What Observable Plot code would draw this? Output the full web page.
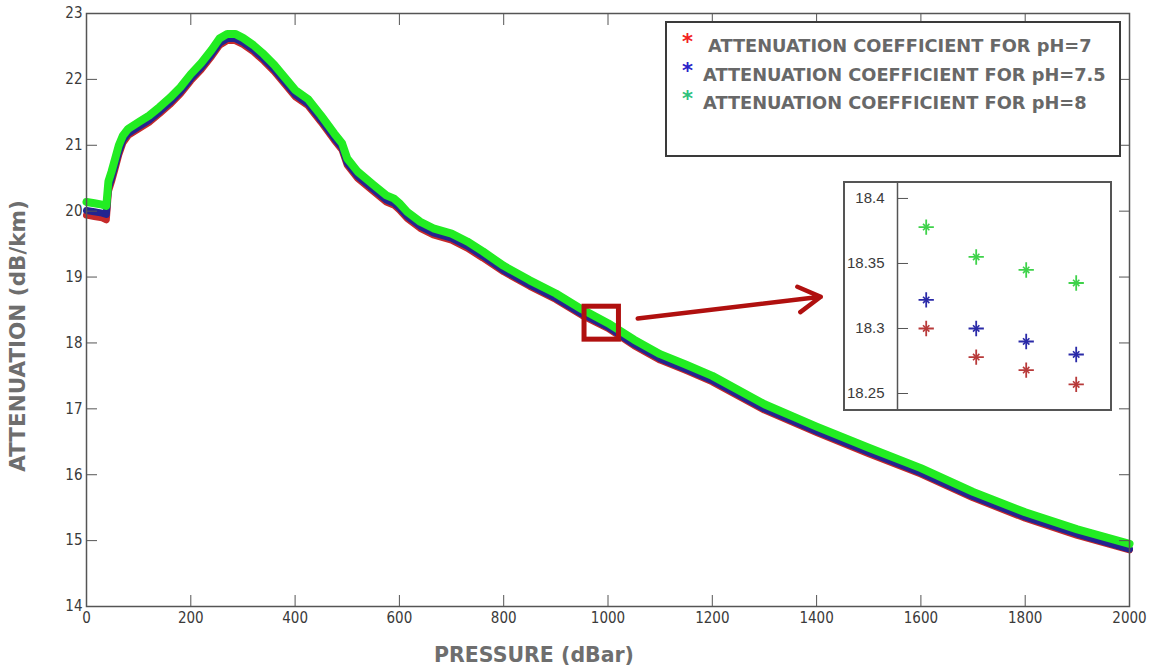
<!DOCTYPE html>
<html>
<head>
<meta charset="utf-8">
<script src="https://cdn.jsdelivr.net/npm/d3@7"></script>
<script src="https://cdn.jsdelivr.net/npm/@observablehq/plot@0.6"></script>
<style>
  body { margin: 0; background: #fff; }
  #wrap { position: relative; width: 1153px; height: 672px; background: #fff; }
  #wrap > svg { position: absolute; left: 0; top: 0; }
  #legend {
    position: absolute; left: 665px; top: 21px; width: 456px; height: 136px;
    border: 2px solid #3a3a3a; box-sizing: border-box; background: #fff;
    font-family: "DejaVu Sans", Verdana, sans-serif; font-weight: bold; font-size: 17.8px; color: #686868;
  }
  #legend .row { position: absolute; white-space: nowrap; line-height: 1; }
  #legend .star { position: absolute; font-size: 21px; line-height: 1; font-weight: bold; }
  #inset {
    position: absolute; left: 843px; top: 181px; width: 269px; height: 230px;
    border: 2px solid #555; box-sizing: border-box; background: #fff;
  }
  #inset svg { display: block; }
</style>
</head>
<body>
<div id="wrap"></div>
<script>
// Pressure grid (dBar) on which the attenuation profiles are sampled
const pressure = [0, 15, 30, 38, 42, 48, 55, 62, 70, 80, 100, 120, 140, 160, 180, 200,
  220, 240, 255, 270, 285, 300, 320, 340, 360, 380, 400, 425, 450, 475, 490, 500,
  520, 550, 575, 590, 600, 615, 640, 665, 700, 730, 760, 800, 850, 900, 950, 1000,
  1050, 1100, 1150, 1200, 1300, 1400, 1500, 1600, 1700, 1800, 1900, 2000];

// Attenuation (dB/km) for each pH
const attenPH7 = [19.94, 19.92, 19.90, 19.87, 20.30, 20.45, 20.65, 20.86, 21.04, 21.15, 21.25, 21.35, 21.48, 21.62, 21.78, 21.98,
  22.15, 22.35, 22.52, 22.59, 22.59, 22.53, 22.42, 22.28, 22.12, 21.93, 21.74, 21.60, 21.35, 21.08, 20.93, 20.70,
  20.50, 20.30, 20.14, 20.09, 20.02, 19.89, 19.74, 19.64, 19.56, 19.44, 19.29, 19.08, 18.86, 18.66, 18.42, 18.22,
  17.96, 17.74, 17.58, 17.41, 16.98, 16.64, 16.32, 16.01, 15.65, 15.34, 15.08, 14.86];
const attenPH75 = [20.01, 19.99, 19.97, 19.95, 20.35, 20.50, 20.70, 20.90, 21.08, 21.18, 21.28, 21.38, 21.51, 21.65, 21.81, 22.01,
  22.18, 22.38, 22.55, 22.62, 22.62, 22.56, 22.45, 22.31, 22.15, 21.96, 21.77, 21.63, 21.38, 21.11, 20.96, 20.73,
  20.53, 20.33, 20.17, 20.12, 20.05, 19.92, 19.77, 19.67, 19.59, 19.47, 19.32, 19.10, 18.88, 18.68, 18.44, 18.24,
  17.98, 17.76, 17.60, 17.43, 17.00, 16.66, 16.34, 16.03, 15.67, 15.36, 15.10, 14.87];
const attenPH8 = [20.14, 20.12, 20.10, 20.08, 20.45, 20.60, 20.80, 21.00, 21.15, 21.25, 21.35, 21.45, 21.58, 21.72, 21.88, 22.08,
  22.25, 22.45, 22.62, 22.69, 22.69, 22.63, 22.52, 22.38, 22.22, 22.03, 21.84, 21.70, 21.45, 21.18, 21.03, 20.80,
  20.60, 20.40, 20.24, 20.19, 20.12, 19.99, 19.84, 19.74, 19.66, 19.54, 19.39, 19.17, 18.95, 18.75, 18.51, 18.30,
  18.05, 17.83, 17.67, 17.50, 17.07, 16.73, 16.41, 16.10, 15.74, 15.43, 15.17, 14.95];

// Magnified samples near 1000 dBar (inset)
const insetSample = [1, 2, 3, 4];
const insetPH7 = [18.300, 18.278, 18.268, 18.257];
const insetPH75 = [18.322, 18.300, 18.290, 18.280];
const insetPH8 = [18.378, 18.355, 18.345, 18.335];

// Axis ticks
const xTicks = [0, 200, 400, 600, 800, 1000, 1200, 1400, 1600, 1800, 2000];
const yTicks = [14, 15, 16, 17, 18, 19, 20, 21, 22, 23];
const insetTicks = [18.25, 18.3, 18.35, 18.4];

// Zoom window around 1000 dBar and the callout arrow toward the inset
const zoomPressure = [955, 1021];
const zoomAtten = [18.05, 18.55];
const arrowPressure = [1057, 1408];
const arrowAtten = [18.37, 18.70];

const legendLabels = [
  "ATTENUATION COEFFICIENT FOR pH=7",
  "ATTENUATION COEFFICIENT FOR pH=7.5",
  "ATTENUATION COEFFICIENT FOR pH=8"
];

const lineColors = ["#c62a2a", "#24248f", "#22ec22"];
const legendStarColors = ["#f22222", "#2a22c8", "#2fc27c"];
const insetColors = ["#b83a3a", "#2a2aa8", "#3ed24a"];

const profiles = [attenPH7, attenPH75, attenPH8].map((vals) =>
  pressure.map((p, i) => ({p, a: vals[i]}))
);

const tickFont = "'Liberation Sans Narrow', 'DejaVu Sans Condensed', 'Arial Narrow', sans-serif";
const labelFont = "'DejaVu Sans', Verdana, sans-serif";
const plain = (d) => String(d);

const main = Plot.plot({
  width: 1153,
  height: 672,
  marginLeft: 86,
  marginRight: 24,
  marginTop: 13,
  marginBottom: 66,
  x: {domain: [0, 2000]},
  y: {domain: [14, 23]},
  style: {fontFamily: tickFont, fontSize: "15px", color: "#3a3a3a", background: "#fff", overflow: "visible"},
  marks: [
    Plot.line(profiles[0], {x: "p", y: "a", stroke: lineColors[0], strokeWidth: 7, strokeLinejoin: "round", strokeLinecap: "round"}),
    Plot.line(profiles[1], {x: "p", y: "a", stroke: lineColors[1], strokeWidth: 7, strokeLinejoin: "round", strokeLinecap: "round"}),
    Plot.line(profiles[2], {x: "p", y: "a", stroke: lineColors[2], strokeWidth: 8, strokeLinejoin: "round", strokeLinecap: "round"}),
    Plot.rect([0], {x1: zoomPressure[0], x2: zoomPressure[1], y1: zoomAtten[0], y2: zoomAtten[1], fill: "none", stroke: "#b0100f", strokeWidth: 5}),
    Plot.arrow([0], {x1: arrowPressure[0], y1: arrowAtten[0], x2: arrowPressure[1], y2: arrowAtten[1], stroke: "#b0100f", strokeWidth: 4.5, headLength: 8.5}),
    Plot.frame({stroke: "#555", strokeWidth: 1.5}),
    Plot.axisX(xTicks, {anchor: "bottom", tickSize: -11, tickPadding: 17, tickFormat: plain, stroke: "#555", label: null}),
    Plot.axisX(xTicks, {anchor: "top", tickSize: -11, tickFormat: () => "", stroke: "#555", label: null}),
    Plot.axisY(yTicks, {anchor: "left", tickSize: -11, tickPadding: 15, tickFormat: plain, stroke: "#555", label: null}),
    Plot.axisY(yTicks, {anchor: "right", tickSize: -11, tickFormat: () => "", stroke: "#555", label: null}),
    Plot.text(["ATTENUATION (dB/km)"], {frameAnchor: "left", textAnchor: "middle", lineAnchor: "middle", dx: -68, dy: 26, rotate: -90, fontFamily: labelFont, fontWeight: "bold", fontSize: 21.5, fill: "#6e6e6e"}),
    Plot.text(["PRESSURE (dBar)"], {frameAnchor: "bottom", textAnchor: "middle", lineAnchor: "middle", dx: -74, dy: 49, fontFamily: labelFont, fontWeight: "bold", fontSize: 20.5, fill: "#6e6e6e"})
  ]
});

const wrap = document.getElementById("wrap");
wrap.appendChild(main);

// Legend box
const legend = document.createElement("div");
legend.id = "legend";
const rowPos = [{x: 41, y: 14, sx: 15, sy: 9}, {x: 36, y: 43, sx: 15, sy: 38}, {x: 36, y: 71, sx: 15, sy: 66}];
legendLabels.forEach((label, i) => {
  const star = document.createElement("span");
  star.className = "star";
  star.textContent = "*";
  star.style.color = legendStarColors[i];
  star.style.left = rowPos[i].sx + "px";
  star.style.top = rowPos[i].sy + "px";
  legend.appendChild(star);
  const row = document.createElement("span");
  row.className = "row";
  row.textContent = label;
  row.style.left = rowPos[i].x + "px";
  row.style.top = rowPos[i].y + "px";
  legend.appendChild(row);
});
wrap.appendChild(legend);

// Inset: magnified view near 1000 dBar
const insetRows = [insetPH7, insetPH75, insetPH8].map((vals) => insetSample.map((s, i) => ({s, a: vals[i]})));
const insetMarks = [];
insetRows.forEach((rows, i) => {
  insetMarks.push(Plot.dot(rows, {x: "s", y: "a", symbol: "plus", r: 5, stroke: insetColors[i], strokeWidth: 1.8}));
  insetMarks.push(Plot.dot(rows, {x: "s", y: "a", symbol: "times", r: 3, stroke: insetColors[i], strokeWidth: 1.6}));
});
const inset = Plot.plot({
  width: 265,
  height: 226,
  marginLeft: 52,
  marginRight: 0,
  marginTop: 0,
  marginBottom: 0,
  x: {domain: [0.426, 4.686], axis: null},
  y: {domain: [18.2377, 18.4115]},
  style: {fontFamily: "'Liberation Sans', Arial, sans-serif", fontSize: "15px", color: "#3a3a3a", background: "#fff"},
  marks: [
    Plot.frame({anchor: "left", stroke: "#555", strokeWidth: 1.5}),
    Plot.axisY(insetTicks, {anchor: "left", tickSize: -11, tickPadding: 24, tickFormat: plain, stroke: "#555", label: null}),
    ...insetMarks
  ]
});
const insetBox = document.createElement("div");
insetBox.id = "inset";
insetBox.appendChild(inset);
wrap.appendChild(insetBox);
</script>
</body>
</html>
